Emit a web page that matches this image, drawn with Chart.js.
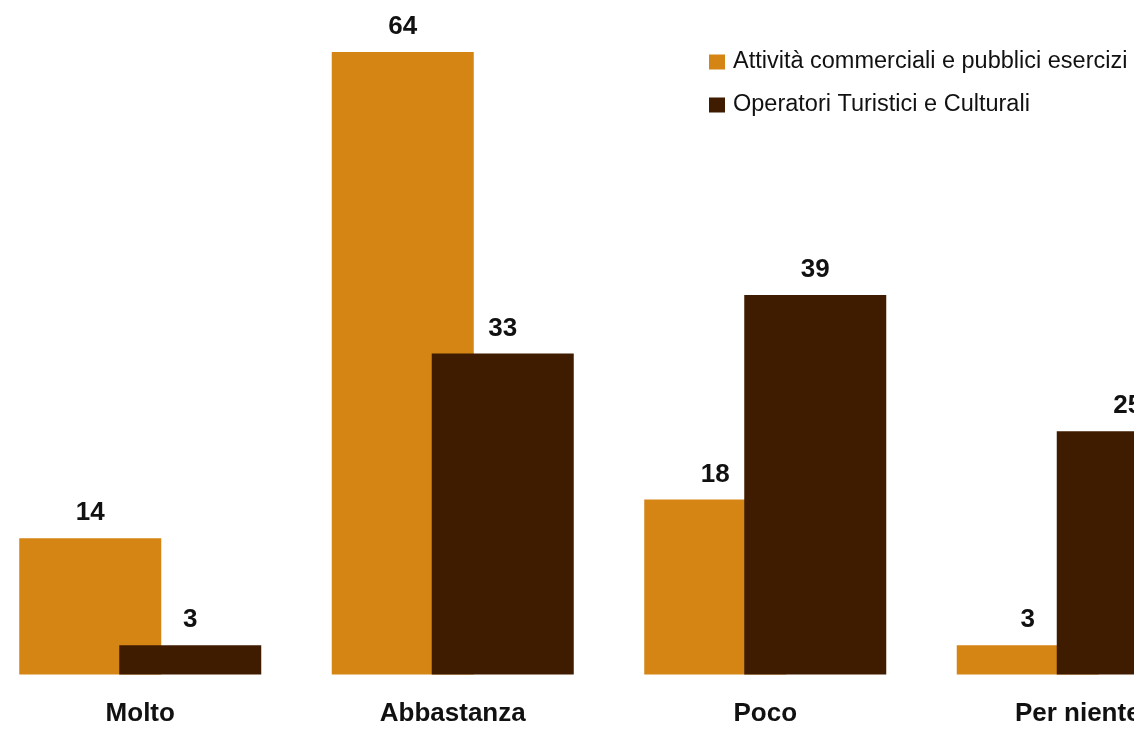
<!DOCTYPE html>
<html>
<head>
<meta charset="utf-8">
<script src="https://cdn.jsdelivr.net/npm/chart.js@4.4.1/dist/chart.umd.min.js"></script>
<style>
  html, body { margin: 0; padding: 0; background: #fff; overflow: hidden; }
  #wrap { position: absolute; left: -16px; top: 0; width: 1250px; height: 731px; }
</style>
</head>
<body>
<div id="wrap"><canvas id="myChart" width="1250" height="731"></canvas></div>
<script>
const categories = ['Molto', 'Abbastanza', 'Poco', 'Per niente'];
const seriesNames = ['Attività commerciali e pubblici esercizi', 'Operatori Turistici e Culturali'];
const commercialValues = [14, 64, 18, 3];
const touristValues = [3, 33, 39, 25];
const seriesColors = ['#d58514', '#3f1c00'];

const FONT = '"Liberation Sans", Arial, sans-serif';
Chart.defaults.font.family = FONT;

// draw the datasets first-to-last so the second series overlaps the first
const overlapOrder = {
  id: 'overlapOrder',
  beforeDatasetsDraw(chart) {
    chart.data.datasets.forEach((ds, i) => {
      const meta = chart.getDatasetMeta(i);
      if (!meta.hidden) meta.controller.draw();
    });
    return false;
  }
};

// numbers above each bar
const valueLabels = {
  id: 'valueLabels',
  afterDraw(chart) {
    const ctx = chart.ctx;
    ctx.save();
    ctx.font = 'bold 26px ' + FONT;
    ctx.fillStyle = '#111';
    ctx.textAlign = 'center';
    ctx.textBaseline = 'middle';
    chart.data.datasets.forEach((ds, i) => {
      chart.getDatasetMeta(i).data.forEach((bar, j) => {
        ctx.fillText(ds.data[j], bar.x, bar.y - 25);
      });
    });
    ctx.restore();
  }
};

// legend in the top right corner
const cornerLegend = {
  id: 'cornerLegend',
  afterDraw(chart) {
    const ctx = chart.ctx;
    ctx.save();
    ctx.font = '23.5px ' + FONT;
    ctx.textBaseline = 'middle';
    chart.data.datasets.forEach((ds, i) => {
      const y = 62 + i * 43;
      ctx.fillStyle = ds.backgroundColor;
      ctx.fillRect(725, y - 7.5, 16, 15);
      ctx.fillStyle = '#111';
      ctx.fillText(ds.label, 749, y);
    });
    ctx.restore();
  }
};

const ctx = document.getElementById('myChart');
const config = {
  type: 'bar',
  data: {
    labels: categories,
    datasets: [
      { label: seriesNames[0], data: commercialValues, backgroundColor: seriesColors[0] },
      { label: seriesNames[1], data: touristValues, backgroundColor: seriesColors[1] }
    ]
  },
  options: {
    responsive: false,
    animation: false,
    categoryPercentage: 0.64,
    barPercentage: 1.42,
    layout: { padding: { top: 13, left: 0, right: 0, bottom: 0 } },
    plugins: {
      legend: { display: false },
      tooltip: { enabled: false }
    },
    scales: {
      x: {
        grid: { display: false, drawTicks: false },
        border: { display: false },
        ticks: {
          color: '#111',
          padding: 24,
          font: { size: 26, weight: 'bold' }
        },
        afterFit(scale) { scale.height = 56.5; }
      },
      y: {
        display: false,
        min: 0,
        max: 68
      }
    }
  },
  plugins: [overlapOrder, valueLabels, cornerLegend]
};

new Chart(ctx, config);
</script>
</body>
</html>
